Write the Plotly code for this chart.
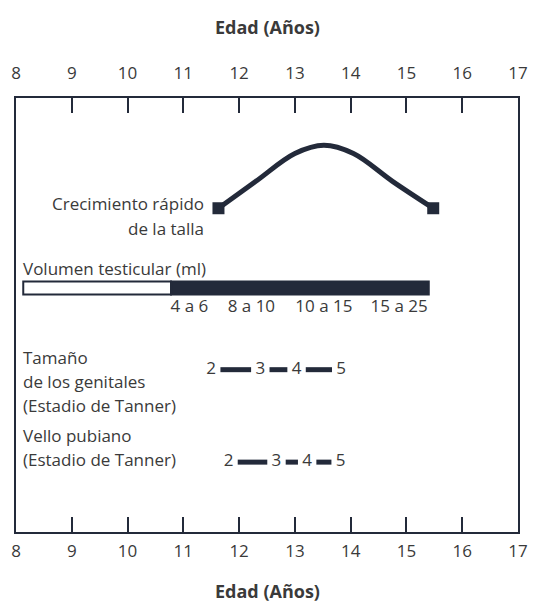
import plotly.graph_objects as go

# ---------------- data ----------------
age_ticks = list(range(8, 18))

# growth spurt curve (relative height velocity, arbitrary units)
growth_age = [11.63, 12.3, 13.0, 13.52, 14.05, 14.75, 15.48]
growth_val = [74.6, 80.8, 87.2, 89.1, 87.2, 80.8, 74.6]

# testicular volume bar
testis_start = 8.13
testis_prepubertal_end = 10.78
testis_end = 15.4
volume_labels = ["4 a 6", "8 a 10", "10 a 15", "15 a 25"]
volume_label_ages = [11.11, 12.22, 13.52, 14.87]

# Tanner stages
tanner_stages = ["2", "3", "4", "5"]
genital_ages = [11.5, 12.38, 13.03, 13.83]
pubic_ages = [11.81, 12.67, 13.22, 13.82]

# ---------------- layout constants (row positions, styles) ----------------
Y_VOLUME_BAR = 56.2
Y_VOLUME_TITLE = 60.8
Y_VOLUME_LABELS = 51.6
Y_GENITAL_ROW = 37.4
Y_PUBIC_ROW = 16.1
GAP = 0.165

DARK = "#232a3a"
TEXT = "#3a3a3a"
FONT = "Open Sans"
FS = 17

fig = go.Figure()

# growth curve
fig.add_trace(go.Scatter(
    x=growth_age, y=growth_val, mode="lines",
    line=dict(color=DARK, width=5, shape="spline", smoothing=1.0),
    hoverinfo="skip", showlegend=False))
fig.add_trace(go.Scatter(
    x=[growth_age[0], growth_age[-1]], y=[growth_val[0], growth_val[-1]],
    xaxis="x2",
    mode="markers", marker=dict(symbol="square", size=12, color=DARK),
    hoverinfo="skip", showlegend=False))

# testicular volume bar
fig.add_trace(go.Bar(
    orientation="h", y=[Y_VOLUME_BAR], base=[testis_start],
    x=[testis_prepubertal_end - testis_start], width=3.0,
    marker=dict(color="white", line=dict(color=DARK, width=2)),
    hoverinfo="skip", showlegend=False))
fig.add_trace(go.Bar(
    orientation="h", y=[Y_VOLUME_BAR], base=[testis_prepubertal_end],
    x=[testis_end - testis_prepubertal_end], width=3.0,
    marker=dict(color=DARK, line=dict(color=DARK, width=2)),
    hoverinfo="skip", showlegend=False))
fig.add_trace(go.Scatter(
    x=volume_label_ages, y=[Y_VOLUME_LABELS] * len(volume_label_ages),
    mode="text", text=volume_labels,
    textfont=dict(family=FONT, size=FS, color=TEXT),
    hoverinfo="skip", showlegend=False))


def stage_row(ages, yrow):
    xs, ys = [], []
    for a, b in zip(ages[:-1], ages[1:]):
        xs += [a + GAP, b - GAP, None]
        ys += [yrow, yrow, None]
    fig.add_trace(go.Scatter(
        x=xs, y=ys, mode="lines", line=dict(color=DARK, width=5),
        hoverinfo="skip", showlegend=False))
    fig.add_trace(go.Scatter(
        x=ages, y=[yrow] * len(ages), mode="text", text=tanner_stages,
        textfont=dict(family=FONT, size=FS, color=TEXT),
        hoverinfo="skip", showlegend=False))


stage_row(genital_ages, Y_GENITAL_ROW)
stage_row(pubic_ages, Y_PUBIC_ROW)

ann = []


def label(x, y, text, xanchor="left", size=FS):
    ann.append(dict(x=x, y=y, xref="x", yref="y", text=text, showarrow=False,
                    xanchor=xanchor, yanchor="middle",
                    font=dict(family=FONT, size=size, color=TEXT)))


label(11.41, 75.6, "Crecimiento rápido", "right")
label(11.41, 70.0, "de la talla", "right")
label(8.09, Y_VOLUME_TITLE, "Volumen testicular (ml)")
label(8.09, 40.2, "Tamaño")
label(8.09, 34.6, "de los genitales")
label(8.09, 29.1, "(Estadio de Tanner)")
label(8.09, 22.2, "Vello pubiano")
label(8.09, 16.6, "(Estadio de Tanner)")

for yp in [1.163, -0.136]:
    ann.append(dict(x=0.5, y=yp, xref="paper", yref="paper",
                    text="<b>Edad (Años)</b>", showarrow=False,
                    xanchor="center", yanchor="middle",
                    font=dict(family=FONT, size=18, color=TEXT)))

axis_common = dict(
    range=[8, 17], tickmode="array", tickvals=age_ticks,
    ticktext=[str(v) for v in age_ticks],
    ticks="inside", ticklen=15, tickwidth=2, tickcolor=DARK,
    showline=True, linecolor=DARK, linewidth=2,
    showgrid=False, zeroline=False, fixedrange=True,
    ticklabeloverflow="allow",
    tickfont=dict(family=FONT, size=FS, color=TEXT))

fig.update_layout(
    width=538, height=602,
    margin=dict(l=16, r=10, t=98, b=70),
    paper_bgcolor="white", plot_bgcolor="white",
    barmode="overlay",
    xaxis=dict(**axis_common, side="bottom", ticklabelstandoff=3),
    xaxis2=dict(**axis_common, side="top", overlaying="x", anchor="y",
                matches="x", ticklabelstandoff=10),
    yaxis=dict(range=[0, 100], showline=True, mirror=True, linecolor=DARK,
               linewidth=2, showticklabels=False, ticks="", showgrid=False,
               zeroline=False, fixedrange=True),
    annotations=ann,
)

# remove the browser's default 8px body margin so the 538x602 figure fits
fig.write_html("out.html", config={"displayModeBar": False},
               post_script="document.body.style.margin='0';"
                           "document.body.style.overflow='hidden';")
